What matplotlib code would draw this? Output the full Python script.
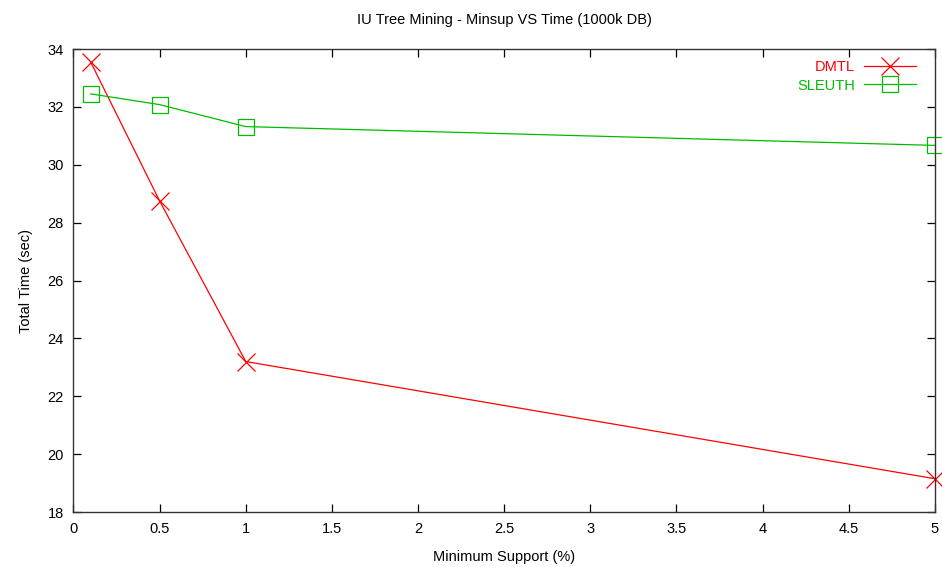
import matplotlib
matplotlib.use("Agg")
import matplotlib.pyplot as plt

plt.rcParams["font.family"] = ["Liberation Sans", "DejaVu Sans"]

minsup = [0.1, 0.5, 1, 5]
dmtl = [33.55, 28.75, 23.2, 19.15]
sleuth = [32.45, 32.08, 31.32, 30.67]

fig = plt.figure(figsize=(9.42, 5.67), dpi=100)
ax = fig.add_axes([0.078, 0.097, 0.9145, 0.8165])

ax.plot(minsup, dmtl, color="#ff0000", lw=0.9, marker="x", ms=13, mew=0.9,
        label="DMTL", clip_on=False)
ax.plot(minsup, sleuth, color="#00bb00", lw=0.9, marker="s", ms=12, mew=0.9,
        mfc="none", label="SLEUTH", clip_on=False)

ax.set_xlim(0, 5)
ax.set_ylim(18, 34)
ax.set_xticks([0, 0.5, 1, 1.5, 2, 2.5, 3, 3.5, 4, 4.5, 5])
ax.set_xticklabels(["0", "0.5", "1", "1.5", "2", "2.5", "3", "3.5", "4", "4.5", "5"])
ax.set_yticks(range(18, 35, 2))
ax.tick_params(direction="in", length=6, width=0.9, labelsize=10.5,
               top=True, right=True, pad=7)
for s in ax.spines.values():
    s.set_linewidth(1)
    s.set_color("#333333")

ax.set_title("IU Tree Mining - Minsup VS Time (1000k DB)", fontsize=10.5, pad=18)
ax.set_xlabel("Minimum Support (%)", fontsize=10.5, labelpad=10)
ax.set_ylabel("Total Time (sec)", fontsize=10.5, labelpad=10)

ax.legend(loc="upper right", bbox_to_anchor=(0.99, 0.998), frameon=False,
          markerfirst=False, fontsize=10.5, labelcolor="linecolor",
          handlelength=3.6, borderaxespad=0.3, handletextpad=0.6,
          labelspacing=0.3)

fig.savefig("out.png", dpi=100)
